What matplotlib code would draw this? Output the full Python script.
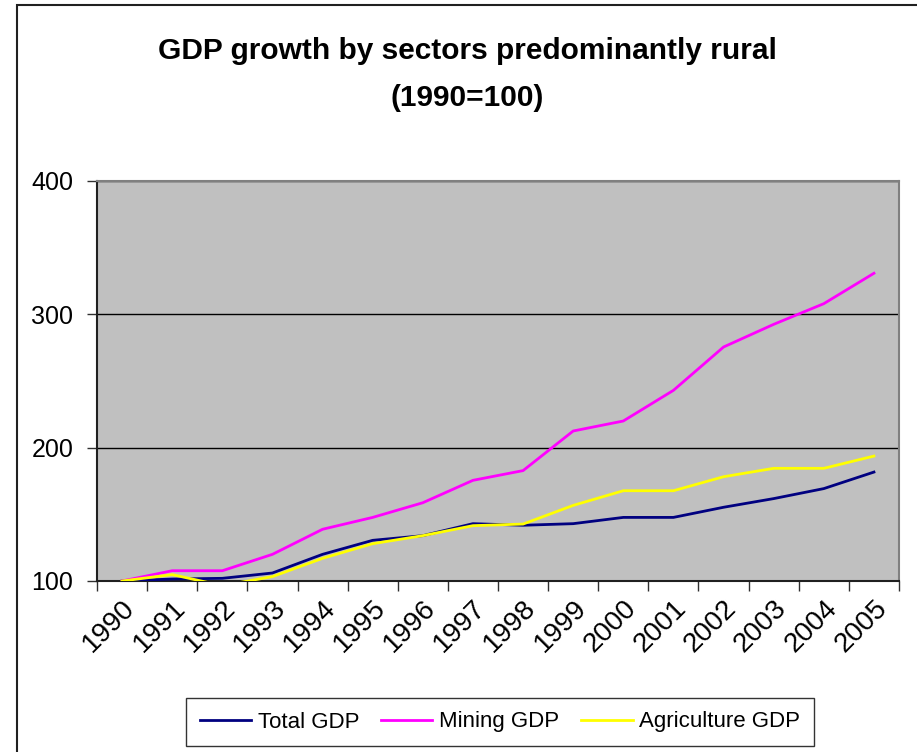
import matplotlib
matplotlib.use("Agg")
import matplotlib.pyplot as plt
from matplotlib.patches import Rectangle

plt.rcParams['font.family'] = ['Liberation Sans', 'DejaVu Sans']

years = [str(y) for y in range(1990, 2006)]
total_gdp = [100, 101.5, 102, 106, 120, 130.5, 134, 143, 141.8, 143, 147.7, 147.7,
             155.3, 161.8, 169.3, 181.7]
mining_gdp = [100, 107.7, 107.7, 120, 138.8, 147.7, 158.7, 175.5, 182.8, 212.5, 220,
              243, 275.5, 292.5, 308, 330.8]
agriculture_gdp = [100, 104.8, 96.5, 103.3, 117, 128, 134, 141.5, 142.7, 156.7, 167.7,
                   167.7, 178.2, 184.5, 184.5, 193.7]
y_ticks = [100, 200, 300, 400]

W, H = 917, 752
fig = plt.figure(figsize=(W / 100, H / 100), dpi=100)

# outer chart frame (only left and top edges fall inside the image)
fig.patches.append(Rectangle((16.5 / W, -0.1), 1.2, 1.1 - 5.5 / H, transform=fig.transFigure,
                             fill=False, edgecolor='#202020', linewidth=1.5))

ax = fig.add_axes([97 / W, (H - 581) / H, (899 - 97) / W, 400 / H])
ax.set_facecolor('#c0c0c0')

x = list(range(len(years)))
ax.plot(x, total_gdp, color='#000080', linewidth=2, label='Total GDP', zorder=3)
ax.plot(x, mining_gdp, color='#ff00ff', linewidth=2, label='Mining GDP', zorder=3)
ax.plot(x, agriculture_gdp, color='#ffff00', linewidth=2, label='Agriculture GDP', zorder=3)

ax.set_xlim(-0.5, len(years) - 0.5)
ax.set_ylim(100, 400)
ax.set_yticks(y_ticks)
ax.set_yticklabels([str(v) for v in y_ticks], fontsize=18)
ax.yaxis.grid(True, color='black', linewidth=1)
ax.set_axisbelow(True)

# category ticks sit on the boundaries, labels at the centres
ax.set_xticks([i - 0.5 for i in range(len(years) + 1)])
ax.set_xticklabels([])
ax.set_xticks(x, minor=True)
ax.set_xticklabels(years, minor=True, rotation=45, ha='right', va='top',
                   rotation_mode='anchor', fontsize=20)
ax.tick_params(axis='x', which='major', length=7, width=1, color='#303030', direction='out')
ax.tick_params(axis='x', which='minor', length=0, pad=10)
ax.tick_params(axis='y', length=7, width=1, color='#303030', pad=10)

for side in ('top', 'right'):
    ax.spines[side].set_color('#808080')
    ax.spines[side].set_linewidth(1.5)
for side in ('left', 'bottom'):
    ax.spines[side].set_color('#202020')
    ax.spines[side].set_linewidth(1.5)

fig.text(467 / W, 1 - 51 / H, 'GDP growth by sectors predominantly rural',
         ha='center', va='center', fontsize=21.5, fontweight='bold')
fig.text(467 / W, 1 - 98 / H, '(1990=100)',
         ha='center', va='center', fontsize=21.5, fontweight='bold')

leg = fig.legend(loc='center', bbox_to_anchor=(500 / W, 1 - 722 / H), ncol=3,
                 fontsize=16, frameon=True, fancybox=False, handlelength=2.3,
                 handletextpad=0.3, columnspacing=1.0, borderpad=0.6)
leg.get_frame().set_edgecolor('black')
leg.get_frame().set_linewidth(1)

fig.savefig('out.png', dpi=100)
